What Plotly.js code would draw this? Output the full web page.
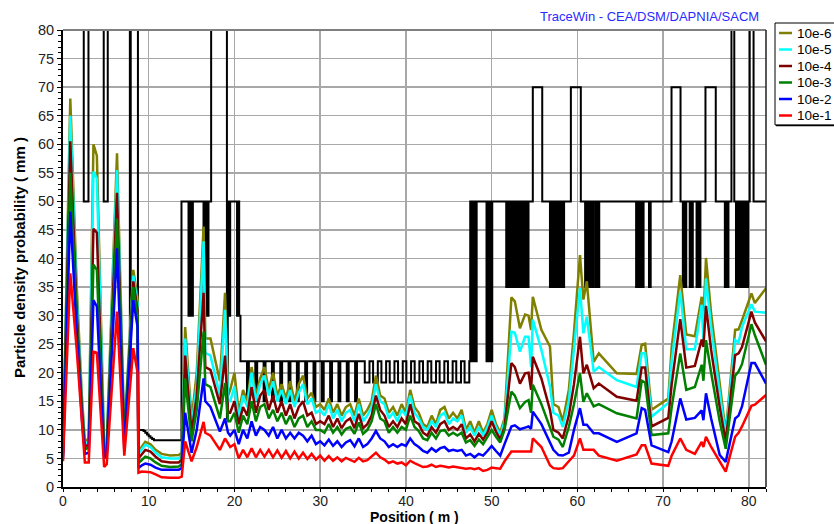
<!DOCTYPE html>
<html>
<head>
<meta charset="utf-8">
<script src="https://cdn.plot.ly/plotly-3.0.1.min.js"></script>
<style>html,body{margin:0;padding:0;background:#fff}#chart{width:834px;height:524px}</style>
</head>
<body>
<div id="chart"></div>
<script>
// Position along the linac (m)
const posX = [0, 0.85, 1.6, 2.2, 2.55, 3.0, 3.55, 3.95, 4.8, 5.1, 6.3, 7.15, 8.2, 8.7,
  8.8, 9.2, 9.6, 10.2, 10.8, 11.5, 12.5, 13.5, 13.85,
  14.25, 15.0, 15.6, 16.4, 16.6, 17.2, 18.3, 18.9, 19.25, 19.5, 20.0,
  20.5, 21, 21.5, 22, 22.5, 23, 23.5, 24, 24.5, 25, 25.5, 26, 26.5, 27, 27.5, 28, 28.5, 29, 29.5, 30,
  30.5, 31, 31.5, 32, 32.5, 33, 33.5, 34, 34.5, 35, 35.5, 36, 36.5, 37, 37.5, 38, 38.5, 39, 39.5, 40,
  40.5, 41, 41.5, 42, 42.5, 43, 43.5, 44, 44.5, 45, 45.5, 46, 46.5, 47, 47.5, 48, 48.5, 49, 49.5, 50,
  50.5, 51, 51.5,
  52.3, 52.7, 53.3, 53.9, 54.3, 54.6, 54.8, 55.8, 56.8, 57.2, 57.8, 58.3, 59.0, 59.6, 60.3, 60.7, 61.1,
  61.9, 62.5, 64.6, 66.9, 67.5, 67.9, 68.65, 70.6, 71.0, 72.0, 72.7, 73.7, 74.5, 74.7, 75.0, 75.6, 76.6,
  77.3, 78.4, 78.8, 79.2, 80.3, 80.7, 82.0];

const d1e6 = [6.5, 68, 35, 16, 8, 8.5, 60, 58, 7, 7.5, 58.4, 9, 38, 33,
  6.2, 7, 7.9, 7.5, 6.5, 5.8, 5.5, 5.6, 6,
  28, 11.7, 20, 45.6, 26, 26, 18.5, 34, 16, 17, 20,
  13, 17, 15, 21, 16, 19, 21, 17, 20, 16, 18, 15.5, 18.5, 15, 18, 19.5, 15.5, 16.5, 14, 14.5,
  13.5, 15.5, 13, 14.5, 12.5, 14, 14.5, 12.5, 15.5, 12.5, 13.5, 15, 19.5, 16, 15.5, 13, 14, 12.5, 14.5, 13,
  17, 14, 13, 11, 10.5, 12.5, 11, 13.5, 14, 12, 13, 12, 13.5, 10, 11.5, 9.5, 11.5, 9.5, 11, 13.5,
  11, 9.5, 12,
  33.2, 32.5, 27.8, 30.2, 30.0, 27.5, 33.3, 27.5, 24.6, 14.5, 14.0, 11.5, 17.0, 27.0, 40.6, 32.8, 36.0,
  21.9, 23.4, 19.9, 19.8, 24.9, 25.1, 13.5, 15.5, 24.5, 37.1, 26.7, 26.4, 33.3, 29.3, 40.1, 30.4, 18.3,
  9.5, 27.5, 27.6, 29.2, 33.9, 32.2, 34.8];

const d1e5 = [6, 65, 33, 15, 7.5, 8, 55.2, 54, 6.5, 7, 55.5, 8.5, 37, 32,
  5.8, 6.5, 7.4, 7, 6, 5.2, 5, 5, 5.5,
  26, 10.5, 18, 43, 23.5, 23, 16, 31, 15, 15, 17.6,
  12, 16, 14, 20, 15, 18, 19.5, 16, 18.5, 15, 17, 14.5, 17, 14, 16.5, 18, 14.5, 15.5, 13, 13.5,
  12.5, 14.5, 12, 13.5, 11.5, 13, 13.5, 11.5, 14.5, 11.5, 12.5, 14, 18, 15, 14.5, 12, 13, 11.5, 13.5, 12.5,
  16, 13, 12, 10.5, 10, 11.5, 10.5, 12.5, 13, 11, 12, 11.5, 12.5, 9.5, 10.5, 9, 10.5, 9, 10.5, 12.5,
  10.5, 9, 11.5,
  27.2, 27.0, 23.7, 26.3, 26.3, 21.0, 29.3, 24.0, 17.6, 13.0, 12.5, 10.5, 15.0, 24.0, 34.8, 26.9, 29.8,
  20.2, 21.0, 18.7, 17.5, 23.4, 23.4, 12.3, 14.7, 22.0, 34.2, 24.1, 24.1, 31.9, 25.7, 36.5, 28.0, 16.5,
  9.0, 25.7, 25.3, 28.0, 32.0, 30.7, 30.5];

const d1e4 = [6, 60.5, 31, 14, 7, 7.5, 45.2, 44.5, 6, 6.5, 51.5, 8, 36, 31,
  5, 5.8, 6.5, 6.2, 5.3, 4.5, 4.3, 4.3, 4.8,
  23, 9.5, 16, 34, 21, 20.5, 14.5, 23, 13, 13, 15,
  11, 14, 12.5, 17.5, 13, 16, 17, 13.5, 16, 13, 15, 12.5, 14.5, 12, 14, 15, 12.5, 13, 11, 11.5,
  11, 12.5, 10.5, 12, 10.3, 11.5, 12, 10.3, 12.8, 10.3, 11, 12.5, 16, 13.5, 12.5, 10.5, 11.5, 10.5, 12, 11,
  14.5, 11.5, 11, 9.5, 9, 10.5, 9.5, 11, 11.5, 10, 10.5, 10, 11, 8.5, 9.2, 8, 9.3, 8.3, 9.5, 11.5,
  9.7, 8.3, 10.5,
  21.7, 21.0, 18.1, 19.9, 20.0, 17.0, 22.8, 19.0, 13.5, 10.0, 9.5, 8.5, 12.5, 18.0, 26.3, 19.9, 21.4,
  17.3, 18.1, 15.8, 15.1, 20.9, 20.9, 10.6, 12.1, 18.0, 29.4, 20.9, 21.2, 25.8, 24.5, 31.7, 24.0, 14.0,
  7.9, 23.1, 23.4, 24.5, 30.7, 28.8, 25.5];

const d1e3 = [5.5, 55, 29, 13, 6.5, 7, 38.9, 38, 5.5, 6, 47, 7.5, 35, 30,
  4.2, 4.8, 5.3, 5, 4.3, 3.7, 3.5, 3.6, 4,
  19, 8, 13.5, 27.2, 18, 17.5, 12, 18.2, 11.5, 11.5, 13,
  9.5, 12.5, 11, 15, 11.5, 14, 14.5, 12, 13.5, 11.5, 13, 11, 12.5, 10.5, 12, 12.5, 10.5, 11.5, 10, 10,
  9.5, 11, 9.5, 10.5, 9.2, 10.2, 10.5, 9.3, 11.3, 9.3, 10, 11.5, 14.5, 12, 11.5, 9.5, 10.5, 9.5, 10.5, 10,
  12.5, 10.5, 9.8, 8.5, 8.2, 9.5, 8.5, 9.8, 10, 9, 9.5, 9, 9.5, 7.8, 8.2, 7.2, 8.3, 7.5, 8.7, 10,
  8.8, 7.8, 10,
  16.7, 16.0, 13.8, 14.9, 15.2, 13.0, 17.9, 14.5, 10.6, 8.8, 8.3, 7.0, 10.5, 14.5, 19.9, 14.9, 16.4,
  14.1, 14.5, 12.9, 12.0, 18.6, 18.3, 9.1, 9.4, 14.0, 23.4, 17.0, 17.5, 21.4, 18.6, 25.7, 20.0, 11.5,
  6.7, 19.5, 20.2, 21.5, 28.5, 26.6, 21.4];

const d1e2 = [5, 48.2, 27, 12, 5.8, 6, 32.7, 31.6, 5, 5.5, 41.8, 6.5, 32.7, 28,
  3.3, 3.8, 4.1, 3.9, 3.4, 3, 3, 3, 3.3,
  13, 6, 10, 19, 15, 14, 9.7, 12, 9.5, 9, 10,
  7.5, 10, 8.5, 11.5, 9, 10.5, 10, 9, 10.5, 8.5, 10, 8.5, 9.5, 8.5, 9.5, 9, 8, 9, 7.5, 8,
  7.3, 8.3, 7.2, 8, 7, 7.8, 8.2, 7.1, 8.5, 7, 7.5, 8.5, 9.8, 8.5, 8, 7, 7.5, 7, 7.5, 7.2,
  8.5, 7.5, 7, 6.3, 6, 6.8, 6.2, 6.8, 7, 6.3, 6.5, 6.3, 6.5, 5.5, 5.8, 5.2, 5.8, 5.5, 6.3, 7.2,
  6.3, 5.5, 7.5,
  10.6, 10.8, 10.1, 10.4, 10.6, 10.2, 13.2, 11.0, 7.9, 6.5, 5.6, 5.5, 6.0, 10.0, 13.8, 10.9, 10.9,
  9.4, 9.4, 7.9, 9.4, 13.8, 13.5, 7.3, 6.1, 8.0, 15.5, 11.8, 12.1, 13.4, 11.7, 16.4, 12.0, 5.6,
  4.4, 12.0, 12.5, 14.1, 21.7, 21.7, 18.1];

const d1e1 = [4.5, 37.4, 24, 10.6, 4.3, 4.3, 23.7, 23.5, 3.5, 4, 30.7, 5.5, 24.3, 20,
  2.5, 2.7, 2.7, 2.6, 2.2, 1.7, 1.6, 1.6, 1.8,
  8, 4.5, 7, 11.4, 9.5, 9, 6.5, 8.5, 7.5, 7, 7.5,
  5, 6.5, 5.2, 6.8, 5.2, 6.5, 5.3, 6.5, 5.2, 6.4, 5.1, 6.3, 5, 6.2, 5, 6, 4.9, 5.8, 4.8, 5.5,
  4.6, 5.4, 4.6, 5.2, 4.5, 5.1, 4.7, 4.4, 5.1, 4.5, 4.7, 5.3, 6, 5.2, 4.8, 4.2, 4.5, 4.1, 4.3, 3.8,
  4.6, 4.2, 3.8, 3.5, 3.6, 3.9, 3.5, 3.7, 3.6, 3.4, 3.6, 3.5, 3.4, 3.2, 3.3, 3.1, 3.3, 2.8, 3, 3.4,
  3.3, 3.2, 4.5,
  6.2, 6.2, 6.2, 6.2, 6.2, 6.2, 8.5, 7.0, 3.8, 3.3, 3.2, 3.3, 4.5, 5.5, 8.5, 6.5, 6.5,
  6.5, 5.5, 4.6, 5.7, 7.3, 7.3, 4.1, 3.7, 5.5, 8.5, 6.5, 5.8, 7.9, 7.0, 8.8, 7.0, 4.5,
  2.7, 8.8, 9.5, 10.6, 14.2, 14.4, 16.1];

// Aperture (step: value holds from each position to the next)
const apX = [0, 2.42, 2.97, 4.75, 5.22, 7.8, 7.9, 8.74, 9.4, 9.6, 9.8, 10.0, 10.2, 10.4, 10.6,
  13.82, 14.64, 14.76, 14.84, 14.96, 15.03, 15.15, 16.39, 16.52, 16.6, 16.72, 16.8, 16.97, 17.28,
  19.12, 19.22, 19.3, 19.5, 20.3, 20.45, 20.55, 20.7,
  21.46, 21.68, 22.43, 22.65, 23.40, 23.62, 24.37, 24.59, 25.34, 25.56, 26.31, 26.53, 27.28, 27.50,
  28.25, 28.47, 29.22, 29.44, 30.19, 30.41, 31.16, 31.38, 32.13, 32.35, 33.10, 33.32, 34.07, 34.29,
  35.2, 35.75, 36.17, 36.72, 37.14, 37.69, 38.11, 38.66, 39.08, 39.63, 40.05, 40.60, 41.02, 41.57,
  41.99, 42.54, 42.96, 43.51, 43.93, 44.48, 44.90, 45.45, 45.87, 46.42, 46.84, 47.39,
  47.5, 47.58, 47.7, 47.78, 47.9, 47.98, 48.1, 48.16, 48.25,
  49.4, 49.52, 49.6, 49.72, 49.8, 49.92, 49.98, 50.07,
  51.7, 51.82, 51.98, 52.08, 52.24, 52.34, 52.42, 52.5, 52.72, 52.8, 52.98, 53.05, 53.22, 53.3, 53.42, 53.5,
  53.72, 53.8, 54.0, 54.08, 54.22, 54.3, 54.8, 55.9,
  56.8, 56.92, 57.08, 57.18, 57.32, 57.42, 57.58, 57.68, 57.82, 57.92, 58.08, 58.18, 58.32, 58.45, 59.24, 60.4,
  60.9, 61.02, 61.18, 61.28, 61.46, 61.56, 61.76, 61.86, 62.1, 62.2, 62.42, 62.55,
  66.85, 66.97, 67.12, 67.22, 67.37, 67.47, 67.62, 67.72, 68.35, 68.55, 70.98, 72.03,
  72.3, 72.42, 72.6, 72.7, 73.1, 73.2, 73.36, 73.46, 73.9, 74.0, 74.22, 74.35, 74.94, 76.14,
  77.2, 77.32, 77.5, 77.62, 77.97, 78.3, 78.5, 78.62, 78.8, 78.92, 79.15, 79.27, 79.5, 79.62, 79.8, 79.92,
  80.1, 80.55, 82];
const apY = [100, 50, 100, 50, 100, 20, 100, 10, 9.8, 9.5, 9.2, 8.9, 8.6, 8.4, 8.2,
  50, 30, 50, 30, 50, 30, 50, 30, 50, 30, 50, 30, 50, 100,
  12, 50, 30, 50, 30, 50, 30, 22,
  15, 22, 15, 22, 15, 22, 15, 22, 15, 22, 15, 22, 15, 22,
  15, 22, 15, 22, 15, 22, 15, 22, 15, 22, 15, 22, 15, 22,
  18.3, 22, 18.3, 22, 18.3, 22, 18.3, 22, 18.3, 22, 18.3, 22, 18.3, 22,
  18.3, 22, 18.3, 22, 18.3, 22, 18.3, 22, 18.3, 22, 18.3, 22,
  50, 22, 50, 22, 50, 22, 50, 22, 50,
  22, 50, 22, 50, 22, 50, 22, 50,
  35, 50, 35, 50, 35, 50, 35, 50, 35, 50, 35, 50, 35, 50, 35, 50,
  35, 50, 35, 50, 35, 50, 70, 50,
  35, 50, 35, 50, 35, 50, 35, 50, 35, 50, 35, 50, 35, 50, 70, 50,
  35, 50, 35, 50, 35, 50, 35, 50, 35, 50, 35, 50,
  35, 50, 35, 50, 35, 50, 35, 50, 35, 50, 70, 50,
  35, 50, 35, 50, 35, 50, 35, 50, 35, 50, 35, 50, 70, 50,
  35, 50, 35, 50, 100, 50, 35, 50, 35, 50, 35, 50, 35, 50, 35, 50,
  100, 50, 50];

const seriesNames = ['10e-6', '10e-5', '10e-4', '10e-3', '10e-2', '10e-1'];
const seriesColors = ['#808000', '#00ffff', '#800000', '#008000', '#0000ff', '#ff0000'];
const seriesData = [d1e6, d1e5, d1e4, d1e3, d1e2, d1e1];
const xTicks = [0, 10, 20, 30, 40, 50, 60, 70, 80];
const yTicks = [0, 5, 10, 15, 20, 25, 30, 35, 40, 45, 50, 55, 60, 65, 70, 75, 80];

const traces = [{
  x: apX, y: apY, mode: 'lines', showlegend: false,
  line: {color: '#000000', width: 2, shape: 'hv'}
}];
seriesData.forEach((d, i) => traces.push({
  x: posX, y: d, mode: 'lines', name: seriesNames[i], showlegend: false,
  line: {color: seriesColors[i], width: 2.5}
}));

// plot area in pixels: left 63, right 766, top 30, bottom 487
const L = 63, R = 766, T = 30, B = 487;
const px = v => (v - L) / (R - L);
const py = v => (B - v) / (B - T);

const shapes = [
  {type: 'line', xref: 'paper', yref: 'paper', x0: 0, x1: 1, y0: 1, y1: 1, line: {color: '#808080', width: 2}},
  {type: 'line', xref: 'paper', yref: 'paper', x0: 1, x1: 1, y0: 0, y1: 1, line: {color: '#202020', width: 1.5}},
  {type: 'rect', xref: 'paper', yref: 'paper', x0: px(775), x1: px(845), y0: py(125), y1: py(23),
    line: {color: '#000', width: 1}, fillcolor: '#fff', layer: 'above'},
  {type: 'line', xref: 'paper', yref: 'paper', x0: px(776), x1: px(845), y0: py(125.5), y1: py(125.5),
    line: {color: '#000', width: 1.5}}
];
const annotations = [
  {text: 'TraceWin - CEA/DSM/DAPNIA/SACM', xref: 'paper', yref: 'paper', x: px(761), y: py(16),
    xanchor: 'right', yanchor: 'middle', showarrow: false,
    font: {family: 'Arial, Liberation Sans, sans-serif', size: 13, color: '#2a2aff'}},
  {text: '<b>Position ( m )</b>', xref: 'paper', yref: 'paper', x: px(414), y: py(517),
    xanchor: 'center', yanchor: 'middle', showarrow: false, borderpad: 0,
    font: {family: 'Arial, Liberation Sans, sans-serif', size: 14, color: '#000'}},
  {text: '<b>Particle density probability ( mm )</b>', xref: 'paper', yref: 'paper', x: px(19), y: py(258),
    xanchor: 'center', yanchor: 'middle', textangle: -90, showarrow: false,
    font: {family: 'Arial, Liberation Sans, sans-serif', size: 15, color: '#000'}}
];
seriesNames.forEach((n, i) => {
  const yy = 33 + 16.5 * i;
  shapes.push({type: 'line', xref: 'paper', yref: 'paper', x0: px(779), x1: px(792), y0: py(yy), y1: py(yy),
    line: {color: seriesColors[i], width: 2.5}, layer: 'above'});
  annotations.push({text: n, xref: 'paper', yref: 'paper', x: px(795), y: py(yy), xanchor: 'left', yanchor: 'middle',
    showarrow: false, font: {family: 'Arial, Liberation Sans, sans-serif', size: 13.5, color: '#000'}});
});

const axisFont = {family: 'Arial, Liberation Sans, sans-serif', size: 14.5, color: '#222'};
const layout = {
  width: 834, height: 524,
  margin: {l: L, r: 834 - R, t: T, b: 524 - B, pad: 0},
  paper_bgcolor: '#ffffff', plot_bgcolor: '#ffffff',
  showlegend: false, hovermode: false,
  xaxis: {
    range: [0, 82], tickmode: 'array', tickvals: xTicks, ticktext: xTicks.map(String),
    showgrid: true, gridcolor: '#a8a8a8', gridwidth: 1.5, zeroline: false,
    showline: true, linecolor: '#000', linewidth: 2,
    ticks: 'outside', ticklen: 3, tickcolor: '#000', ticklabelstandoff: -3,
    tickfont: {family: 'Arial, Liberation Sans, sans-serif', size: 14, color: '#222'},
    minor: {dtick: 2, tick0: 0, ticks: 'outside', ticklen: 3, tickcolor: '#000', showgrid: false}
  },
  yaxis: {
    range: [0, 80], tickmode: 'array', tickvals: yTicks, ticktext: yTicks.map(String),
    showgrid: true, gridcolor: '#a8a8a8', gridwidth: 1.5, zeroline: false,
    showline: true, linecolor: '#000', linewidth: 2,
    ticks: 'outside', ticklen: 4, tickcolor: '#000', tickfont: axisFont,
    minor: {dtick: 1, tick0: 0, ticks: 'outside', ticklen: 3, tickcolor: '#000', showgrid: false}
  },
  shapes: shapes,
  annotations: annotations
};
Plotly.newPlot('chart', traces, layout, {staticPlot: true, displayModeBar: false});
</script>
</body>
</html>
